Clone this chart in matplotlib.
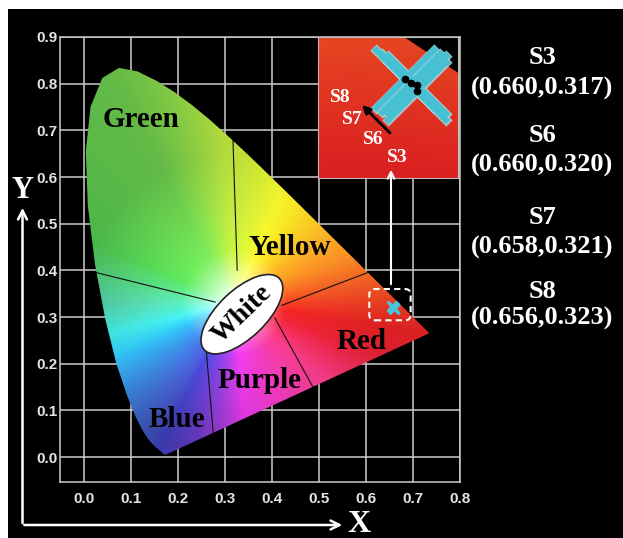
import numpy as np
import matplotlib
matplotlib.use("Agg")
import matplotlib.pyplot as plt
from matplotlib.patches import Polygon, Ellipse, FancyBboxPatch, Rectangle, FancyArrowPatch
from matplotlib.colors import hsv_to_rgb

# CIE 1931 spectral locus, 380 -> 700 nm
locus_x = [0.1741, 0.1740, 0.1738, 0.1736, 0.1733, 0.1730, 0.1726, 0.1721, 0.1714, 0.1703,
           0.1689, 0.1669, 0.1644, 0.1611, 0.1566, 0.1510, 0.1440, 0.1355, 0.1241, 0.1096,
           0.0913, 0.0687, 0.0454, 0.0235, 0.0082, 0.0039, 0.0139, 0.0389, 0.0743, 0.1142,
           0.1547, 0.1929, 0.2296, 0.2658, 0.3016, 0.3373, 0.3731, 0.4087, 0.4441, 0.4788,
           0.5125, 0.5448, 0.5752, 0.6029, 0.6270, 0.6482, 0.6658, 0.6801, 0.6915, 0.7006,
           0.7079, 0.7140, 0.7190, 0.7230, 0.7260, 0.7300, 0.7334, 0.7347]
locus_y = [0.0050, 0.0050, 0.0049, 0.0049, 0.0048, 0.0048, 0.0048, 0.0048, 0.0051, 0.0058,
           0.0069, 0.0086, 0.0109, 0.0138, 0.0177, 0.0227, 0.0297, 0.0399, 0.0578, 0.0868,
           0.1327, 0.2007, 0.2950, 0.4127, 0.5384, 0.6548, 0.7502, 0.8120, 0.8338, 0.8262,
           0.8059, 0.7816, 0.7543, 0.7243, 0.6923, 0.6589, 0.6245, 0.5896, 0.5547, 0.5202,
           0.4866, 0.4544, 0.4242, 0.3965, 0.3725, 0.3514, 0.3340, 0.3197, 0.3083, 0.2993,
           0.2920, 0.2859, 0.2809, 0.2770, 0.2740, 0.2700, 0.2666, 0.2653]

# colour regions
region_names = ["Green", "Yellow", "Red", "Purple", "Blue"]
region_x = [0.121, 0.438, 0.591, 0.374, 0.197]
region_y = [0.707, 0.4325, 0.231, 0.148, 0.064]

# region borders (start -> end)
border_x0 = [0.317, 0.023, 0.421, 0.406, 0.260]
border_y0 = [0.679, 0.396, 0.325, 0.298, 0.229]
border_x1 = [0.326, 0.279, 0.603, 0.487, 0.275]
border_y1 = [0.400, 0.332, 0.395, 0.150, 0.052]

# samples
samples = ["S3", "S6", "S7", "S8"]
sample_x = [0.660, 0.660, 0.658, 0.656]
sample_y = [0.317, 0.320, 0.321, 0.323]

W, H = 623, 538


def fig_xy(px, py):
    return px / W, 1 - py / H


# colour field for the diagram
ang_tab = [-20, -9, 22, 58, 95, 118, 155, 180, 205, 238, 255, 275, 319, 340]
hue_tab = [-6, 0, 30, 55, 76, 105, 118, 160, 195, 232, 262, 300, 335, 354]
sat_tab = [.85, .85, .85, .85, .72, .62, .6, .6, .8, .65, .7, .75, .75, .85]
val_tab = [.86, .86, .97, .96, .85, .73, .72, .75, .94, .66, .7, .82, .92, .86]

gx, gy = np.meshgrid(np.linspace(-0.05, 0.8, 700), np.linspace(-0.05, 0.9, 780))
dx, dy = gx - 0.32, gy - 0.33
ang = np.degrees(np.arctan2(dy, dx))
ang = np.where(ang < -20, ang + 360, ang)
dist = np.hypot(dx, dy)
hue = (np.interp(ang, ang_tab, hue_tab) % 360) / 360
smax = np.interp(ang, ang_tab, sat_tab)
vmax = np.interp(ang, ang_tab, val_tab)
sat = smax * np.clip((dist - 0.012) / 0.10, 0, 1) ** 0.75
val = 1 - (1 - vmax) * np.clip((dist - 0.04) / 0.28, 0, 1)
rgb = hsv_to_rgb(np.dstack([hue, sat, val]))

fig = plt.figure(figsize=(6.23, 5.38), dpi=100)
fig.patch.set_facecolor("white")
fig.patches.append(Rectangle((8 / W, 0), 1, 1 - 9 / H, transform=fig.transFigure,
                             facecolor="black", edgecolor="none", zorder=-10))

ax = fig.add_axes([60 / W, 1 - 482 / H, 400 / W, 445 / H])
ax.set_facecolor("black")
ax.set_xlim(-0.051, 0.8)
ax.set_ylim(-0.0535, 0.9)
ax.set_xticks(np.arange(0, 0.81, 0.1))
ax.set_yticks(np.arange(0, 0.91, 0.1))
ax.set_xticklabels(["%.1f" % v for v in np.arange(0, 0.81, 0.1)])
ax.set_yticklabels(["%.1f" % v for v in np.arange(0, 0.91, 0.1)])
ax.tick_params(length=0, labelcolor="#e4e4e4", labelsize=11)
ax.tick_params(axis="x", pad=7)
ax.tick_params(axis="y", pad=2)
for lab in ax.get_xticklabels() + ax.get_yticklabels():
    lab.set_fontweight("bold")
    lab.set_family("Liberation Sans")
ax.grid(True, color="#cccccc", lw=1.1)
ax.set_axisbelow(True)
for sp in ax.spines.values():
    sp.set_color("#cccccc")
    sp.set_linewidth(1.1)

locus = np.column_stack([locus_x, locus_y])
clip = Polygon(locus, closed=True, transform=ax.transData, facecolor="none", edgecolor="none")
ax.add_patch(clip)
img = ax.imshow(rgb, extent=(-0.05, 0.8, -0.05, 0.9), origin="lower", aspect="auto",
                interpolation="bilinear", zorder=2)
img.set_clip_path(clip)

for i in range(len(border_x0)):
    ax.plot([border_x0[i], border_x1[i]], [border_y0[i], border_y1[i]], color="#111111", lw=0.8, zorder=3)

ax.add_patch(Ellipse((0.336, 0.306), 0.221, 0.102, angle=44, facecolor="white",
                     edgecolor="#222222", lw=1.2, zorder=4))
ax.text(0.336, 0.306, "White", rotation=44, ha="center", va="center", fontsize=20,
        fontweight="bold", family="Liberation Serif", color="black", zorder=5)

for name, x, y in zip(region_names, region_x, region_y):
    ax.text(x, y, name, ha="center", va="baseline", fontsize=21, fontweight="bold",
            family="Liberation Serif", color="black", zorder=5)

ax.plot(sample_x, sample_y, "x", color="#45c4dc", ms=7, mew=2, zorder=6)

# dashed box round the samples
ax.add_patch(FancyBboxPatch((0.607, 0.293), 0.088, 0.067, boxstyle="round,pad=0,rounding_size=0.012",
                            facecolor="none", edgecolor="white", lw=1.5, ls=(0, (3, 2)), zorder=6))

# inset zoom
ins = fig.add_axes([318 / W, 1 - 178 / H, 140 / W, 141 / H])
ins.set_facecolor("black")
ins.set_xticks([])
ins.set_yticks([])
for sp in ins.spines.values():
    sp.set_color("#bbbbbb")
    sp.set_linewidth(0.8)
clip2 = Polygon(locus, closed=True, transform=ins.transData, facecolor="none", edgecolor="none")
ins.add_patch(clip2)
img2 = ins.imshow(rgb, extent=(-0.05, 0.8, -0.05, 0.9), origin="lower", aspect="auto",
                  interpolation="bilinear")
img2.set_clip_path(clip2)
ins.set_xlim(0.627, 0.6737)
ins.set_ylim(0.2735, 0.344)
ins.plot(sample_x, sample_y, "x", color="#9ee4ee", ms=46, mew=6.5, alpha=0.8)
ins.plot(sample_x, sample_y, "x", color="#48c0d4", ms=44, mew=4.5)
ins.plot(sample_x, sample_y, "o", color="black", ms=4.5)

for name, px, py in zip(["S8", "S7", "S6", "S3"], [340, 352, 373, 397], [98, 120, 140, 157]):
    fx, fy = fig_xy(px, py)
    fig.text(fx, fy, name, ha="center", va="center", fontsize=14, fontweight="bold",
             family="Liberation Serif", color="white", zorder=5)

fig.add_artist(FancyArrowPatch(fig_xy(392, 135), fig_xy(360, 103), transform=fig.transFigure,
                               arrowstyle="-|>", color="black", lw=2, mutation_scale=12, zorder=5))
fig.add_artist(FancyArrowPatch(fig_xy(391, 287), fig_xy(391, 167), transform=fig.transFigure,
                               arrowstyle="->", color="white", lw=1.5, mutation_scale=12, zorder=5))

# axis arrows
fig.add_artist(FancyArrowPatch(fig_xy(22.5, 526), fig_xy(22.5, 205), transform=fig.transFigure,
                               arrowstyle="->", color="white", lw=1.8, mutation_scale=16, zorder=5))
fig.add_artist(FancyArrowPatch(fig_xy(21.5, 525), fig_xy(345, 525), transform=fig.transFigure,
                               arrowstyle="->", color="white", lw=1.8, mutation_scale=16, zorder=5))
fig.text(*fig_xy(22, 191), "Y", ha="center", va="center", fontsize=22, fontweight="bold",
         family="Liberation Serif", color="white")
fig.text(*fig_xy(359, 525), "X", ha="center", va="center", fontsize=23, fontweight="bold",
         family="Liberation Serif", color="white")

# sample coordinates on the right
coord_y = [(58, 88), (135, 165), (218, 247), (292, 318)]
for name, x, y, (py1, py2) in zip(samples, sample_x, sample_y, coord_y):
    fig.text(*fig_xy(542, py1), name, ha="center", va="center", fontsize=19, fontweight="bold",
             family="Liberation Serif", color="white")
    fig.text(*fig_xy(542, py2), "(%.3f,%.3f)" % (x, y), ha="center", va="center", fontsize=19,
             fontweight="bold", family="Liberation Serif", color="white")

fig.savefig("out.png", dpi=100, facecolor=fig.get_facecolor())
